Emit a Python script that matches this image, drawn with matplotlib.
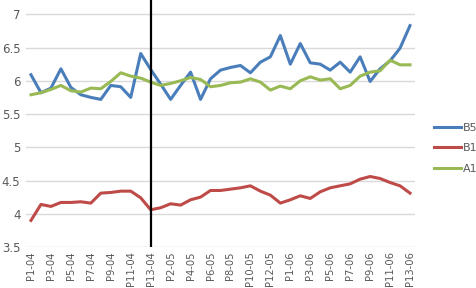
import numpy as np
import matplotlib
matplotlib.use("Agg")
import matplotlib.pyplot as plt

# periods P1-04 .. P13-06
periods = ["P%d-%02d" % (p, y) for y in (4, 5, 6) for p in range(1, 14)]

b5 = [6.09, 5.82, 5.89, 6.18, 5.90, 5.79, 5.75, 5.72, 5.93, 5.91, 5.75, 6.41, 6.17,
      5.95, 5.72, 5.93, 6.13, 5.72, 6.03, 6.16, 6.20, 6.23, 6.12, 6.28, 6.36, 6.68,
      6.25, 6.56, 6.27, 6.25, 6.16, 6.28, 6.13, 6.36, 5.99, 6.18, 6.30, 6.49, 6.83]
b1 = [3.90, 4.14, 4.11, 4.17, 4.17, 4.18, 4.16, 4.31, 4.32, 4.34, 4.34, 4.24, 4.06,
      4.09, 4.15, 4.13, 4.21, 4.25, 4.35, 4.35, 4.37, 4.39, 4.42, 4.34, 4.28, 4.16,
      4.21, 4.27, 4.23, 4.33, 4.39, 4.42, 4.45, 4.52, 4.56, 4.53, 4.47, 4.42, 4.31]
a1 = [5.79, 5.82, 5.87, 5.93, 5.85, 5.83, 5.89, 5.88, 5.99, 6.12, 6.07, 6.04, 5.98,
      5.93, 5.96, 6.00, 6.05, 6.02, 5.91, 5.93, 5.97, 5.98, 6.03, 5.98, 5.86, 5.92,
      5.88, 6.00, 6.06, 6.01, 6.03, 5.88, 5.93, 6.07, 6.13, 6.15, 6.31, 6.24, 6.24]

marker_period = "P13-04"

x = np.arange(len(periods))

fig = plt.figure(figsize=(4.77, 2.88), dpi=100)
ax = fig.add_axes([0.0545, 0.1424, 0.8155, 0.8576])

ax.plot(x, b5, color="#4A7EBB", lw=2.2, label="B5", solid_joinstyle="round")
ax.plot(x, b1, color="#BE4B48", lw=2.2, label="B1", solid_joinstyle="round")
ax.plot(x, a1, color="#98B954", lw=2.2, label="A1", solid_joinstyle="round")

ax.axvline(periods.index(marker_period), color="black", lw=1.6, zorder=5)

ax.set_xlim(-0.5, len(periods) - 0.5)
ax.set_ylim(3.5, 7.215)
ax.set_yticks(np.arange(3.5, 7.01, 0.5))
ax.set_yticklabels([("%g" % v) for v in np.arange(3.5, 7.01, 0.5)])
ax.set_xticks(x[::2])
ax.set_xticklabels(periods[::2], rotation=90)
ax.tick_params(axis="both", length=0, colors="#595959")
ax.tick_params(axis="y", pad=4, labelsize=8.5)
ax.tick_params(axis="x", pad=3, labelsize=7.2)

ax.grid(axis="y", color="#D9D9D9", lw=1)
ax.set_axisbelow(True)
for s in ax.spines.values():
    s.set_visible(False)

ax.legend(loc="center left", bbox_to_anchor=(1.05, 0.40), frameon=False,
          fontsize=8, handlelength=2.4, handletextpad=0.2, labelspacing=0.95,
          borderpad=0, borderaxespad=0, labelcolor="#595959")

fig.savefig("out.png", dpi=100)
